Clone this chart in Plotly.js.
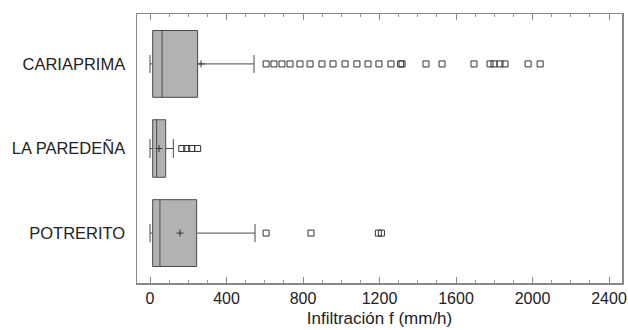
<!DOCTYPE html>
<html>
<head>
<meta charset="utf-8">
<script src="https://cdn.plot.ly/plotly-3.0.1.min.js"></script>
<style>html,body{margin:0;padding:0;background:#fff;}#chart{width:628px;height:330px;}</style>
</head>
<body>
<div id="chart"></div>
<script>
var categories = ['CARIAPRIMA', 'LA PAREDEÑA', 'POTRERITO'];
var q1 = [14, 14, 14];
var medians = [63, 35, 52];
var q3 = [249, 82, 244];
var lowerFences = [0, 0, 0];
var upperFences = [544, 122, 549];
var means = [267, 47, 157];
var outliersCariaprima = [607, 648, 690, 732, 784, 837, 899, 957, 1020, 1082, 1140, 1197, 1260, 1310, 1318, 1443, 1527, 1694, 1778, 1799, 1830, 1856, 1977, 2040];
var outliersParedena = [166, 192, 218, 249];
var outliersPotrerito = [607, 842, 1194, 1210];
var xTickVals = [0, 400, 800, 1200, 1600, 2000, 2400];

var boxWidths = [0.79, 0.68, 0.79];
var capWidths = [0.27, 0.33, 0.27];
var outlierSets = [outliersCariaprima, outliersParedena, outliersPotrerito];

var traces = [];
categories.forEach(function (c, i) {
  traces.push({
    type: 'box', orientation: 'h',
    y: [c], q1: [q1[i]], median: [medians[i]], q3: [q3[i]],
    lowerfence: [lowerFences[i]], upperfence: [upperFences[i]],
    width: boxWidths[i], whiskerwidth: capWidths[i],
    fillcolor: 'rgb(178,178,178)',
    line: {color: '#4a4a4a', width: 1},
    boxpoints: false, hoverinfo: 'skip', showlegend: false
  });
  traces.push({
    type: 'scatter', mode: 'markers',
    x: outlierSets[i], y: outlierSets[i].map(function () { return c; }),
    marker: {symbol: 'square-open', size: 6, color: '#333', line: {width: 1, color: '#333'}},
    showlegend: false, hoverinfo: 'skip'
  });
});
traces.push({
  type: 'scatter', mode: 'markers',
  x: means, y: categories,
  marker: {symbol: 'cross-thin-open', size: 5, line: {width: 1, color: '#333'}, color: '#333'},
  showlegend: false, hoverinfo: 'skip'
});

var layout = {
  width: 628, height: 330,
  margin: {l: 137, r: 6, t: 14, b: 47},
  paper_bgcolor: '#fff', plot_bgcolor: '#fff',
  boxmode: 'overlay',
  font: {family: 'Liberation Sans, Arial, sans-serif', color: '#222'},
  xaxis: {
    range: [-68, 2468], tickvals: xTickVals, ticktext: xTickVals.map(String),
    ticks: 'inside', ticklen: 6, tickcolor: '#888', tickwidth: 1,
    minor: {dtick: 100, tick0: 0, ticks: 'inside', ticklen: 3, tickcolor: '#999'},
    showgrid: false, zeroline: false,
    showline: true, linecolor: '#888', linewidth: 1.5, mirror: 'ticks',
    tickfont: {size: 16, color: '#222'},
    title: {text: 'Infiltración f (mm/h)', font: {size: 17, color: '#222'}, standoff: 6}
  },
  yaxis: {
    type: 'category', categoryorder: 'array', categoryarray: categories.slice().reverse(),
    range: [-0.59, 2.59],
    ticks: '', showgrid: false, zeroline: false,
    showline: true, linecolor: '#888', linewidth: 1.5, mirror: true,
    tickfont: {size: 16.5, color: '#222'}, ticklabelstandoff: 7
  }
};

Plotly.newPlot('chart', traces, layout, {displayModeBar: false, staticPlot: true});
</script>
</body>
</html>
